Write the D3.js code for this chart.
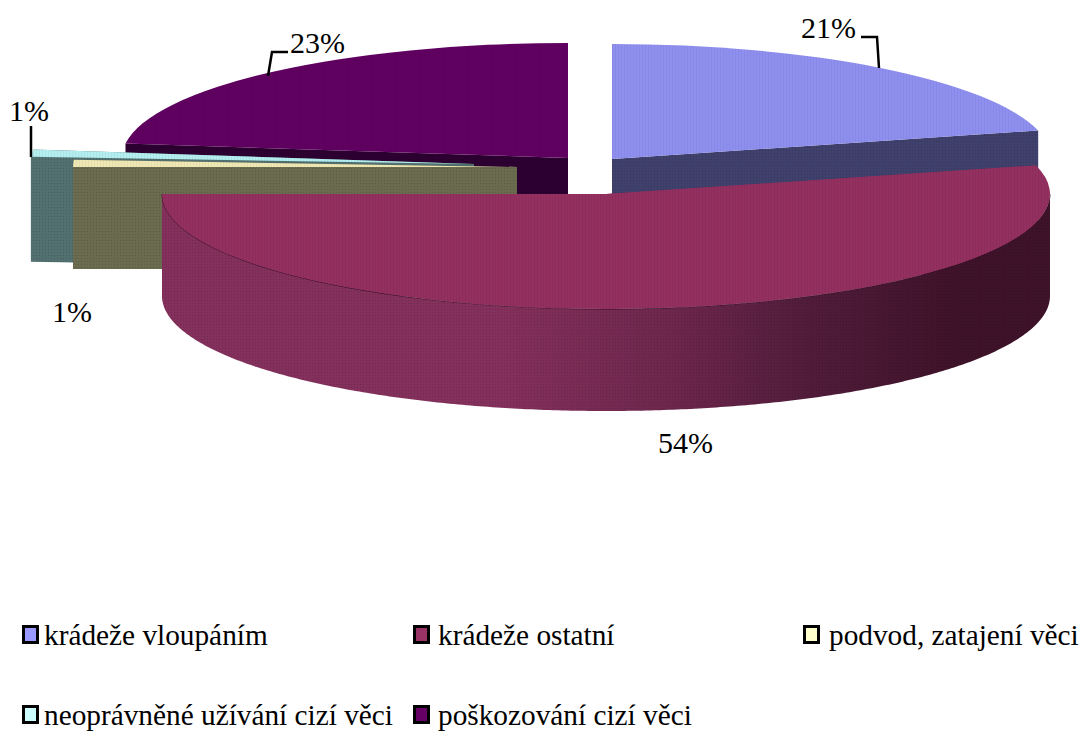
<!DOCTYPE html>
<html><head><meta charset="utf-8">
<script src="https://cdn.jsdelivr.net/npm/d3@7"></script>
<style>html,body{margin:0;padding:0;background:#fff;overflow:hidden}svg{display:block}text{font-family:"Liberation Serif",serif;fill:#000}</style>
</head><body><svg id="c" width="1080" height="731"></svg>
<script>
const categories = ["krádeže vloupáním","krádeže ostatní","podvod, zatajení věci","neoprávněné užívání cizí věci","poškozování cizí věci"];
const values = [21,54,1,1,23];
const legendColors = ["#9999ff","#993366","#ffffcc","#ccffff","#660066"];
const topColors = ["#8f8ff0","#93305f","#efe8b4","#b4eef0","#600060"];
const sideColors = ["#40406c","#84305c","#6b6b50","#527070","#2c0030"];
const labels = ["21%","54%","1%","1%","23%"];

const radii = [440,444,444,444,446], ry = 115, depths = [102,102,102,105,102];
const centers = [[612,159],[606,194],[517,167],[474,164],[568,158]];
const drawOrder = [4,0,3,2,1];

const svg = d3.select("#c");
const defs = svg.append("defs");
const grad = defs.append("linearGradient").attr("id","front").attr("gradientUnits","userSpaceOnUse")
  .attr("x1",163).attr("x2",1049).attr("y1",0).attr("y2",0);
[[0,"#84305c"],[0.38,"#84305c"],[0.58,"#6c264c"],[0.74,"#4f1b39"],[0.9,"#3e1229"],[1,"#3e1229"]]
  .forEach(s=>grad.append("stop").attr("offset",s[0]).attr("stop-color",s[1]));
const pat = defs.append("pattern").attr("id","dots").attr("width",3).attr("height",3).attr("patternUnits","userSpaceOnUse");
pat.append("rect").attr("width",1).attr("height",1).attr("fill","#000").attr("opacity",0.14);

const arcs = d3.pie().sort(null).value(d=>d)(values);
const line = d3.line();

drawOrder.forEach(i=>{
  const a = arcs[i], c = centers[i], rx = radii[i], depth = depths[i];
  const arc = d3.arc().innerRadius(0).outerRadius(rx);
  const ex = t=>c[0]+rx*Math.sin(t), ey = t=>c[1]-ry*Math.cos(t);
  const g = svg.append("g");
  const paint = (d,fill)=>{
    g.append("path").attr("d",d).attr("fill",fill);
    g.append("path").attr("d",d).attr("fill","url(#dots)");
  };
  [a.startAngle,a.endAngle].forEach(t=>{
    const face = [[c[0],c[1]],[ex(t),ey(t)],[ex(t),ey(t)+depth],[c[0],c[1]+depth]];
    paint(line(face)+"Z", sideColors[i]);
  });
  const s = Math.max(a.startAngle,Math.PI/2), e = Math.min(a.endAngle,Math.PI*3/2);
  if (e>s){
    const ts = d3.range(s,e,0.01).concat([e]);
    const upper = ts.map(t=>[ex(t),ey(t)]);
    const lower = ts.slice().reverse().map(t=>[ex(t),ey(t)+depth]);
    paint(line(upper.concat(lower))+"Z","url(#front)");
    g.append("path").attr("d",line(upper)).attr("fill","none").attr("stroke","#1f0a18").attr("stroke-width",1).attr("opacity",0.75);
  }
  const top = g.append("g").attr("transform",`translate(${c[0]},${c[1]}) scale(1,${ry/rx})`);
  top.append("path").attr("d",arc(a)).attr("fill",topColors[i]);
  top.append("path").attr("d",arc(a)).attr("fill","url(#dots)");
});

const labelPos = [[801,38],[658,453],[52,322],[9,121],[290,53]];
labels.forEach((t,i)=>svg.append("text").attr("x",labelPos[i][0]).attr("y",labelPos[i][1]).attr("font-size",30).text(t));
[[[861,37],[877,37],[879,68]],[[288,52],[272,52],[268,76]],[[31,126],[31,157]]].forEach(p=>
  svg.append("path").attr("d",line(p)).attr("fill","none").attr("stroke","#000").attr("stroke-width",2.5));

const legendPos = [[22,625,44,645],[413,625,438,645],[803,625,829,645],[22,705,44,724.5],[413,705,438,724.5]];
categories.forEach((t,i)=>{
  const [x,y,tx,by] = legendPos[i];
  svg.append("rect").attr("x",x+1.5).attr("y",y+1.5).attr("width",14).attr("height",16)
    .attr("fill",legendColors[i]).attr("stroke","#000").attr("stroke-width",3);
  svg.append("text").attr("x",tx).attr("y",by).attr("font-size",29.3).text(t);
});
</script></body></html>
